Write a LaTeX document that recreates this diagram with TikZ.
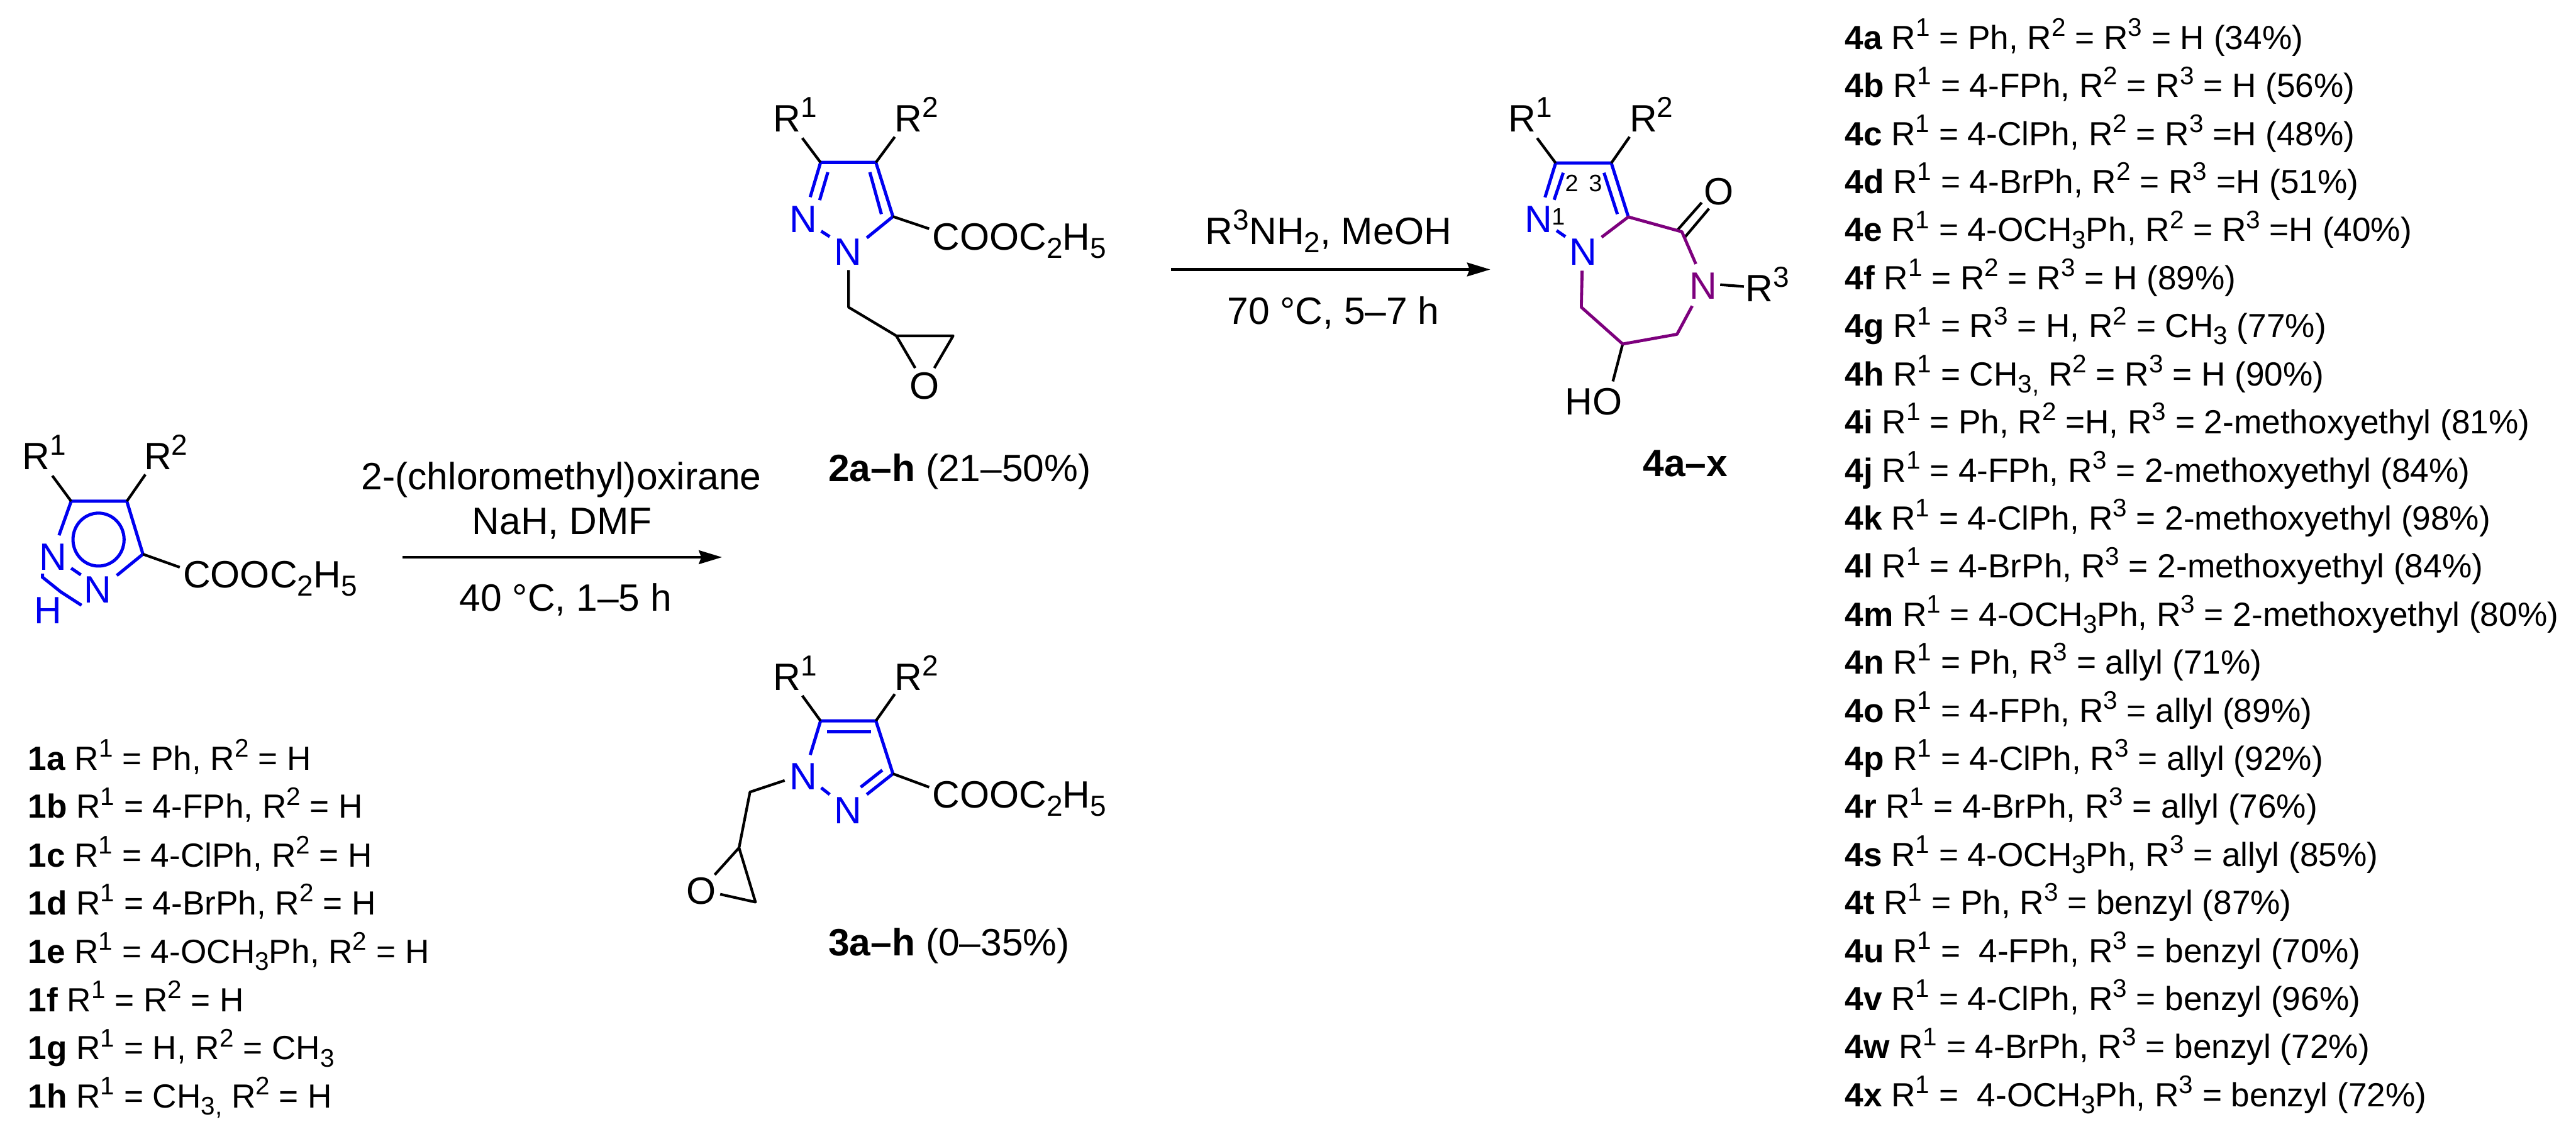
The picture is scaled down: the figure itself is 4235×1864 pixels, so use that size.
\documentclass[tikz,border=0pt]{standalone}
\usepackage{fontspec}
\setmainfont{Liberation Sans}
\usetikzlibrary{arrows.meta}
\definecolor{chemblue}{RGB}{0,0,240}
\definecolor{chempurple}{RGB}{125,0,125}
\newcommand\chemup[1]{\raisebox{.39em}{\scalebox{.76}{#1}}}
\newcommand\chemdn[1]{\raisebox{-.21em}{\scalebox{.76}{#1}}}
\newcommand\Ra{R\chemup{1}}
\newcommand\Rb{R\chemup{2}}
\newcommand\Rc{R\chemup{3}}
\newcommand\esterlabel{COOC\chemdn{2}H\chemdn{5}}
\tikzset{
  atom/.style={inner sep=0pt,outer sep=0pt,anchor=base west,font=\fontsize{15.65}{15.65}\selectfont},
  listline/.style={inner sep=0pt,outer sep=0pt,anchor=base west,font=\fontsize{13.75}{13.75}\selectfont\frenchspacing},
  smallnum/.style={inner sep=0pt,outer sep=0pt,anchor=base west,font=\fontsize{9.75}{9.75}\selectfont},
  bk/.style={draw=black,line width=1.1pt},
  bl/.style={draw=chemblue,line width=1.3pt},
  pu/.style={draw=chempurple,line width=1.25pt},
  rxn/.style={draw=black,line width=1.15pt,-{Stealth[length=9.5pt,width=5.6pt,inset=1pt]}},
}
\begin{document}
\begin{tikzpicture}[x=0.25pt,y=-0.25pt]
\useasboundingbox (0,0) rectangle (4235,1864);
% ---------- compound 1
\node[atom] (aRa) at (37,772) {\Ra};
\node[atom] (aRb) at (237,772) {\Rb};
\node[atom,text=chemblue] (aN2) at (65,937) {N};
\node[atom,text=chemblue] (aN1) at (138,991) {N};
\node[atom,text=chemblue] (aH) at (56,1025) {H};
\node[atom] (aE) at (301,966) {\esterlabel};
\coordinate (a3) at (117,824); \coordinate (a4) at (208.5,824); \coordinate (a5) at (235,911);
\coordinate (a3e) at (97,880); \coordinate (a5e) at (192,946);
\coordinate (an1) at (117,934); \coordinate (an2) at (133,945);
\coordinate (ah1) at (70,943); \coordinate (ah2) at (70,949); \coordinate (ah3) at (100,973); \coordinate (ah4) at (134,995);
\coordinate (aRae) at (86,782); \coordinate (aRbe) at (239,780); \coordinate (aEe) at (295.5,932.5);
\coordinate (acirc) at (162,887);
\draw[bl] (a3e) -- (a3) -- (a4) -- (a5) -- (a5e);
\draw[bl] (an1) -- (an2);
\draw[bl] (ah1) -- (ah2) -- (ah3) -- (ah4);
\draw[bl] (acirc) ellipse [x radius=42,y radius=43.5];
\draw[bk] (a3) -- (aRae);
\draw[bk] (a4) -- (aRbe);
\draw[bk] (a5) -- (aEe);
% reaction 1
\node[atom,anchor=base] (t1a) at (923,805) {2-(chloromethyl)oxirane};
\node[atom,anchor=base] (t1b) at (924,878) {NaH, DMF};
\node[atom,anchor=base] (t1c) at (930,1004) {40 °C, 1–5 h};
\coordinate (r1s) at (662,916); \coordinate (r1e) at (1187,916);
\draw[rxn] (r1s) -- (r1e);
% list 1
\node[listline] (l1a) at (46,1266) {\textbf{1a} \Ra{} = Ph, \Rb{} = H};
\node[listline] (l1b) at (46,1345) {\textbf{1b} \Ra{} = 4-FPh, \Rb{} = H};
\node[listline] (l1c) at (46,1425) {\textbf{1c} \Ra{} = 4-ClPh, \Rb{} = H};
\node[listline] (l1d) at (46,1504) {\textbf{1d} \Ra{} = 4-BrPh, \Rb{} = H};
\node[listline] (l1e) at (46,1583) {\textbf{1e} \Ra{} = 4-OCH\chemdn{3}Ph, \Rb{} = H};
\node[listline] (l1f) at (46,1663) {\textbf{1f} \Ra{} = \Rb{} = H};
\node[listline] (l1g) at (46,1742) {\textbf{1g} \Ra{} = H, \Rb{} = CH\chemdn{3}};
\node[listline] (l1h) at (46,1821) {\textbf{1h} \Ra{} = CH\chemdn{3,} \Rb{} = H};
% ---------- compound 2
\node[atom] (bRa) at (1271,217) {\Ra};
\node[atom] (bRb) at (1471,217) {\Rb};
\node[atom,text=chemblue] (bN2) at (1298,382) {N};
\node[atom,text=chemblue] (bN1) at (1372,436) {N};
\node[atom] (bE) at (1533,411) {\esterlabel};
\node[atom] (bO) at (1496,656) {O};
\node[atom] (bL) at (1362,791) {\textbf{2a–h} (21–50\%)};
\coordinate (b3) at (1349,267); \coordinate (b4) at (1440,267); \coordinate (b5) at (1468,356);
\coordinate (b3e) at (1332,324); \coordinate (b5e) at (1425,391);
\coordinate (bi1) at (1361,283); \coordinate (bi2) at (1347.5,329);
\coordinate (bi3) at (1430,283); \coordinate (bi4) at (1449,352);
\coordinate (bn1) at (1350,380); \coordinate (bn2) at (1364,389);
\coordinate (bRae) at (1319,227); \coordinate (bRbe) at (1471,225); \coordinate (bEe) at (1527.5,376);
\coordinate (bc0) at (1395,444); \coordinate (bc1) at (1395,505); \coordinate (bc2) at (1473.5,552); \coordinate (bc3) at (1567,552);
\coordinate (bo1) at (1504.6,605); \coordinate (bo2) at (1536,605);
\draw[bl] (b3e) -- (b3) -- (b4) -- (b5) -- (b5e);
\draw[bl] (bi1) -- (bi2);
\draw[bl] (bi3) -- (bi4);
\draw[bl] (bn1) -- (bn2);
\draw[bk] (b3) -- (bRae);
\draw[bk] (b4) -- (bRbe);
\draw[bk] (b5) -- (bEe);
\draw[bk,line join=round] (bc0) -- (bc1) -- (bc2) -- (bc3) -- (bo2);
\draw[bk] (bc2) -- (bo1);
% ---------- compound 3
\node[atom] (cRa) at (1271,1135) {\Ra};
\node[atom] (cRb) at (1471,1135) {\Rb};
\node[atom,text=chemblue] (cN1) at (1298,1298) {N};
\node[atom,text=chemblue] (cN2) at (1372,1354) {N};
\node[atom] (cE) at (1533,1328) {\esterlabel};
\node[atom] (cO) at (1129,1486) {O};
\node[atom] (cL) at (1362,1571) {\textbf{3a–h} (0–35\%)};
\coordinate (c3) at (1349,1185); \coordinate (c4) at (1440,1185); \coordinate (c5) at (1468,1272);
\coordinate (c3e) at (1332,1241); \coordinate (c5e) at (1425,1306);
\coordinate (ci1) at (1360,1202.5); \coordinate (ci2) at (1432,1202.5);
\coordinate (ci3) at (1450.5,1266); \coordinate (ci4) at (1415,1294);
\coordinate (cn1) at (1350,1295); \coordinate (cn2) at (1364,1306);
\coordinate (cRae) at (1319,1143.6); \coordinate (cRbe) at (1471,1141); \coordinate (cEe) at (1527.5,1294);
\coordinate (cc0) at (1290,1283); \coordinate (cc1) at (1233,1302); \coordinate (cc2) at (1215,1393.6);
\coordinate (cc3) at (1242,1483); \coordinate (co1) at (1175,1438); \coordinate (co2) at (1184,1470);
\draw[bl] (c3e) -- (c3) -- (c4) -- (c5) -- (c5e);
\draw[bl] (ci1) -- (ci2);
\draw[bl] (ci3) -- (ci4);
\draw[bl] (cn1) -- (cn2);
\draw[bk] (c3) -- (cRae);
\draw[bk] (c4) -- (cRbe);
\draw[bk] (c5) -- (cEe);
\draw[bk,line join=round] (cc0) -- (cc1) -- (cc2) -- (cc3) -- (co2);
\draw[bk] (cc2) -- (co1);
% reaction 2
\node[atom,anchor=base west] (t2a) at (1982,402) {\Rc{}NH\chemdn{2}, MeOH};
\node[atom,anchor=base] (t2b) at (2192,533) {70 °C, 5–7 h};
\coordinate (r2s) at (1925,443); \coordinate (r2e) at (2450,443);
\draw[rxn] (r2s) -- (r2e);
% ---------- compound 4
\node[atom] (dRa) at (2480,217) {\Ra};
\node[atom] (dRb) at (2679,217) {\Rb};
\node[atom,text=chemblue] (dN2) at (2507,382.5) {N};
\node[atom,text=chemblue] (dN1) at (2580,436) {N};
\node[atom] (dO) at (2801,337) {O};
\node[atom,text=chempurple] (dN3) at (2778,492) {N};
\node[atom] (dRc) at (2870,496) {\Rc};
\node[atom] (dOH) at (2573,682) {HO};
\node[atom] (dL) at (2701,783) {\textbf{4a–x}};
\node[smallnum] (dn1) at (2551,370) {1};
\node[smallnum] (dn2) at (2573,315) {2};
\node[smallnum] (dn3) at (2612,315) {3};
\coordinate (d3) at (2557.5,268); \coordinate (d4) at (2649,268); \coordinate (d5) at (2677,356.6);
\coordinate (d3e) at (2540,324.5); \coordinate (d5e) at (2633,390);
\coordinate (di1) at (2570,284); \coordinate (di2) at (2555,328.5);
\coordinate (di3) at (2637,284); \coordinate (di4) at (2659,352);
\coordinate (dn1a) at (2559,379); \coordinate (dn1b) at (2573.5,389);
\coordinate (dRae) at (2527,227); \coordinate (dRbe) at (2679,225);
\coordinate (dco) at (2765,381); \coordinate (dco1) at (2757,379); \coordinate (dco2) at (2797.6,333);
\coordinate (dco3) at (2769,391); \coordinate (dco4) at (2809.6,343);
\coordinate (dnt) at (2788,434); \coordinate (dnb) at (2782,503);
\coordinate (dnr1) at (2828,468); \coordinate (dnr2) at (2867,471);
\coordinate (dc1) at (2757,549.5); \coordinate (dc2) at (2667.7,565.5); \coordinate (dc3) at (2599.7,505); \coordinate (dc4) at (2601,445);
\coordinate (doh) at (2651.6,627);
\draw[bl] (d3e) -- (d3) -- (d4) -- (d5);
\draw[bl] (di1) -- (di2);
\draw[bl] (di3) -- (di4);
\draw[bl] (dn1a) -- (dn1b);
\draw[bk] (d3) -- (dRae);
\draw[bk] (d4) -- (dRbe);
\draw[bk] (dco1) -- (dco2);
\draw[bk] (dco3) -- (dco4);
\draw[bk] (dnr1) -- (dnr2);
\draw[bk] (dc2) -- (doh);
\draw[pu,line join=round] (d5e) -- (d5) -- (dco) -- (dnt);
\draw[pu,line join=round] (dnb) -- (dc1) -- (dc2) -- (dc3) -- (dc4);
% list 4
\node[listline] (l4a) at (3033,81) {\textbf{4a} \Ra{} = Ph, \Rb{} = \Rc{} = H (34\%)};
\node[listline] (l4b) at (3033,160) {\textbf{4b} \Ra{} = 4-FPh, \Rb{} = \Rc{} = H (56\%)};
\node[listline] (l4c) at (3033,239) {\textbf{4c} \Ra{} = 4-ClPh, \Rb{} = \Rc{} =H (48\%)};
\node[listline] (l4d) at (3033,318) {\textbf{4d} \Ra{} = 4-BrPh, \Rb{} = \Rc{} =H (51\%)};
\node[listline] (l4e) at (3033,397) {\textbf{4e} \Ra{} = 4-OCH\chemdn{3}Ph, \Rb{} = \Rc{} =H (40\%)};
\node[listline] (l4f) at (3033,476) {\textbf{4f} \Ra{} = \Rb{} = \Rc{} = H (89\%)};
\node[listline] (l4g) at (3033,555) {\textbf{4g} \Ra{} = \Rc{} = H, \Rb{} = CH\chemdn{3} (77\%)};
\node[listline] (l4h) at (3033,634) {\textbf{4h} \Ra{} = CH\chemdn{3,} \Rb{} = \Rc{} = H (90\%)};
\node[listline] (l4i) at (3033,713) {\textbf{4i} \Ra{} = Ph, \Rb{} =H, \Rc{} = 2-methoxyethyl (81\%)};
\node[listline] (l4j) at (3033,792) {\textbf{4j} \Ra{} = 4-FPh, \Rc{} = 2-methoxyethyl (84\%)};
\node[listline] (l4k) at (3033,871) {\textbf{4k} \Ra{} = 4-ClPh, \Rc{} = 2-methoxyethyl (98\%)};
\node[listline] (l4l) at (3033,950) {\textbf{4l} \Ra{} = 4-BrPh, \Rc{} = 2-methoxyethyl (84\%)};
\node[listline] (l4m) at (3033,1029) {\textbf{4m} \Ra{} = 4-OCH\chemdn{3}Ph, \Rc{} = 2-methoxyethyl (80\%)};
\node[listline] (l4n) at (3033,1108) {\textbf{4n} \Ra{} = Ph, \Rc{} = allyl (71\%)};
\node[listline] (l4o) at (3033,1187) {\textbf{4o} \Ra{} = 4-FPh, \Rc{} = allyl (89\%)};
\node[listline] (l4p) at (3033,1266) {\textbf{4p} \Ra{} = 4-ClPh, \Rc{} = allyl (92\%)};
\node[listline] (l4r) at (3033,1345) {\textbf{4r} \Ra{} = 4-BrPh, \Rc{} = allyl (76\%)};
\node[listline] (l4s) at (3033,1424) {\textbf{4s} \Ra{} = 4-OCH\chemdn{3}Ph, \Rc{} = allyl (85\%)};
\node[listline] (l4t) at (3033,1503) {\textbf{4t} \Ra{} = Ph, \Rc{} = benzyl (87\%)};
\node[listline] (l4u) at (3033,1582) {\textbf{4u} \Ra{} =\ \ 4-FPh, \Rc{} = benzyl (70\%)};
\node[listline] (l4v) at (3033,1661) {\textbf{4v} \Ra{} = 4-ClPh, \Rc{} = benzyl (96\%)};
\node[listline] (l4w) at (3033,1740) {\textbf{4w} \Ra{} = 4-BrPh, \Rc{} = benzyl (72\%)};
\node[listline] (l4x) at (3033,1819) {\textbf{4x} \Ra{} =\ \ 4-OCH\chemdn{3}Ph, \Rc{} = benzyl (72\%)};
\end{tikzpicture}
\end{document}
